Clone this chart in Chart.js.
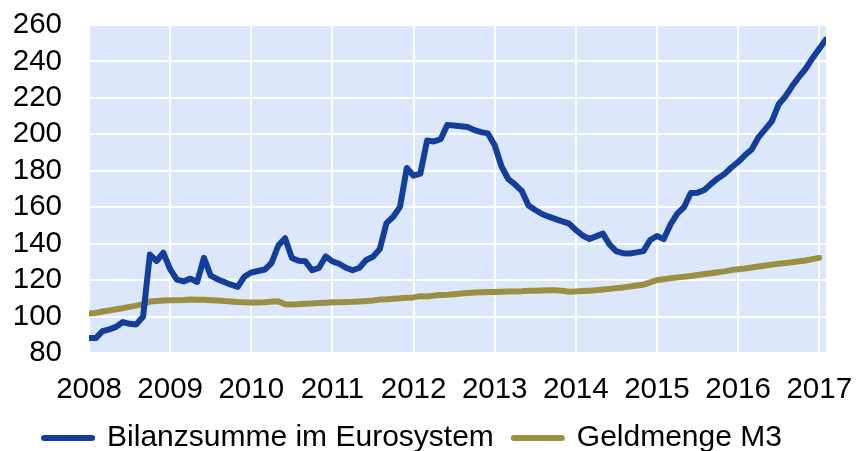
<!DOCTYPE html>
<html>
<head>
<meta charset="utf-8">
<script src="https://cdn.jsdelivr.net/npm/chart.js@4.4.1/dist/chart.umd.min.js"></script>
<style>
    html, body { margin: 0; padding: 0; background: #ffffff; overflow: hidden; }
    #chart { display: block; }
</style>
</head>
<body>
<canvas id="chart" width="856" height="451"></canvas>
<script>
// monthly values, Jan 2008 onwards
const startYear = 2008;
const yearTicks = [2008, 2009, 2010, 2011, 2012, 2013, 2014, 2015, 2016, 2017];
const seriesLabels = ['Bilanzsumme im Eurosystem', 'Geldmenge M3'];

const bilanzsumme = [
    88.3, 88.2, 92, 93, 94.3, 97, 96, 95.7, 100, 134, 130.5, 135,
    126, 120.3, 119.3, 120.8, 119, 132.2, 122.5, 120.5, 119, 117.5, 116.3, 122,
    124.2, 125, 125.8, 129.4, 139, 143, 132.2, 130.6, 130.3, 125.4, 126.7, 133,
    130.3, 129, 126.8, 125.4, 126.8, 131, 132.8, 137, 151.3, 154.8, 160.2, 181.5,
    177.3, 178.4, 196.6, 196.1, 197.3, 205.2, 204.8, 204.4, 204, 202.3, 201.2, 200.5,
    194, 182.5, 175.5, 172.5, 169, 161, 158.5, 156.3, 154.8, 153.5, 152.2, 151,
    147.5, 144.5, 142.6, 144, 145.5, 139.5, 135.8, 134.8, 134.6, 135.2, 135.9, 142,
    144.2, 142.5, 150.5, 156.5, 160, 167.8, 168, 169.5, 172.8, 175.8, 178.3, 181.8,
    184.8, 188.5, 191.7, 198.3, 202.7, 207.3, 216.5, 220.8, 226.5, 231.5, 236, 241.8,
    247, 252
];

const geldmengeM3 = [
    101.6, 102, 102.8, 103.3, 104, 104.6, 105.3, 106, 106.8, 108.2, 108.5, 108.8,
    109, 109, 109.1, 109.3, 109.2, 109.2, 109, 108.8, 108.5, 108.3, 108, 107.8,
    107.7, 107.7, 107.8, 108.2, 108.4, 106.8, 106.6, 106.8, 107, 107.2, 107.4, 107.6,
    107.8, 107.9, 108, 108.1, 108.3, 108.5, 108.8, 109.3, 109.5, 109.8, 110, 110.3,
    110.5, 111.2, 111, 111.5, 111.8, 112, 112.3, 112.6, 112.9, 113.2, 113.4, 113.5,
    113.5, 113.6, 113.7, 113.8, 113.9, 114.1, 114.2, 114.3, 114.4, 114.4, 114.2, 113.6,
    113.8, 114, 114.2, 114.4, 114.8, 115.2, 115.6, 116, 116.5, 117, 117.5, 118.8,
    120, 120.5, 121, 121.5, 121.9, 122.3, 122.8, 123.3, 123.8, 124.3, 124.8, 125.5,
    126, 126.4, 126.9, 127.5, 128, 128.5, 129, 129.4, 129.8, 130.3, 130.8, 131.5,
    132.2
];

const blue = '#133f9b';
const olive = '#9d8f42';

function toPoints(values)
{
    return values.map((v, i) => ({ x: startYear + i / 12, y: v }));
}

const plotBackground = {
    id: 'plotBackground',
    beforeDraw(chart)
    {
        const { ctx, chartArea } = chart;
        ctx.save();
        ctx.fillStyle = '#dde7fb';
        ctx.fillRect(chartArea.left, chartArea.top, chartArea.right - chartArea.left, chartArea.bottom - chartArea.top);
        ctx.restore();
    }
};

Chart.defaults.font.family = "'Liberation Sans', Arial, sans-serif";
Chart.defaults.color = '#000000';

new Chart(document.getElementById('chart'), {
    type: 'line',
    data: {
        datasets: [
            {
                label: seriesLabels[0],
                data: toPoints(bilanzsumme),
                borderColor: blue,
                backgroundColor: blue,
                borderWidth: 6,
                borderJoinStyle: 'round',
                borderCapStyle: 'round',
                pointRadius: 0,
                tension: 0
            },
            {
                label: seriesLabels[1],
                data: toPoints(geldmengeM3),
                borderColor: olive,
                backgroundColor: olive,
                borderWidth: 6,
                borderJoinStyle: 'round',
                borderCapStyle: 'round',
                pointRadius: 0,
                tension: 0
            }
        ]
    },
    options: {
        responsive: false,
        animation: false,
        layout: { padding: { top: 25, right: 30, bottom: -12, left: 0 } },
        plugins: {
            tooltip: { enabled: false },
            legend: {
                position: 'bottom',
                labels: {
                    usePointStyle: true,
                    pointStyle: 'line',
                    pointStyleWidth: 48,
                    padding: 20,
                    font: { size: 30 },
                    generateLabels: chart => Chart.defaults.plugins.legend.labels.generateLabels(chart)
                        .map(item => ({ ...item, lineWidth: 6, lineCap: 'round' }))
                }
            }
        },
        scales: {
            x: {
                type: 'linear',
                min: startYear,
                max: startYear + (bilanzsumme.length - 1) / 12,
                afterBuildTicks: scale => { scale.ticks = yearTicks.map(v => ({ value: v })); },
                afterFit: scale =>
                {
                    scale.height = 50;
                    scale.paddingLeft = 0;
                    scale.paddingRight = 0;
                },
                grid: { color: '#ffffff', lineWidth: 2, drawTicks: false },
                border: { display: false },
                ticks: {
                    padding: 19,
                    maxRotation: 0,
                    autoSkip: false,
                    font: { size: 29.5 },
                    callback: value => String(value)
                }
            },
            y: {
                min: 80,
                max: 260,
                afterFit: scale =>
                {
                    scale.width = 89;
                    scale.paddingTop = 0;
                    scale.paddingBottom = 0;
                },
                grid: { color: '#ffffff', lineWidth: 2, drawTicks: false },
                border: { display: false },
                ticks: {
                    stepSize: 20,
                    padding: 27,
                    autoSkip: false,
                    font: { size: 29.5 }
                }
            }
        }
    },
    plugins: [plotBackground]
});
</script>
</body>
</html>
